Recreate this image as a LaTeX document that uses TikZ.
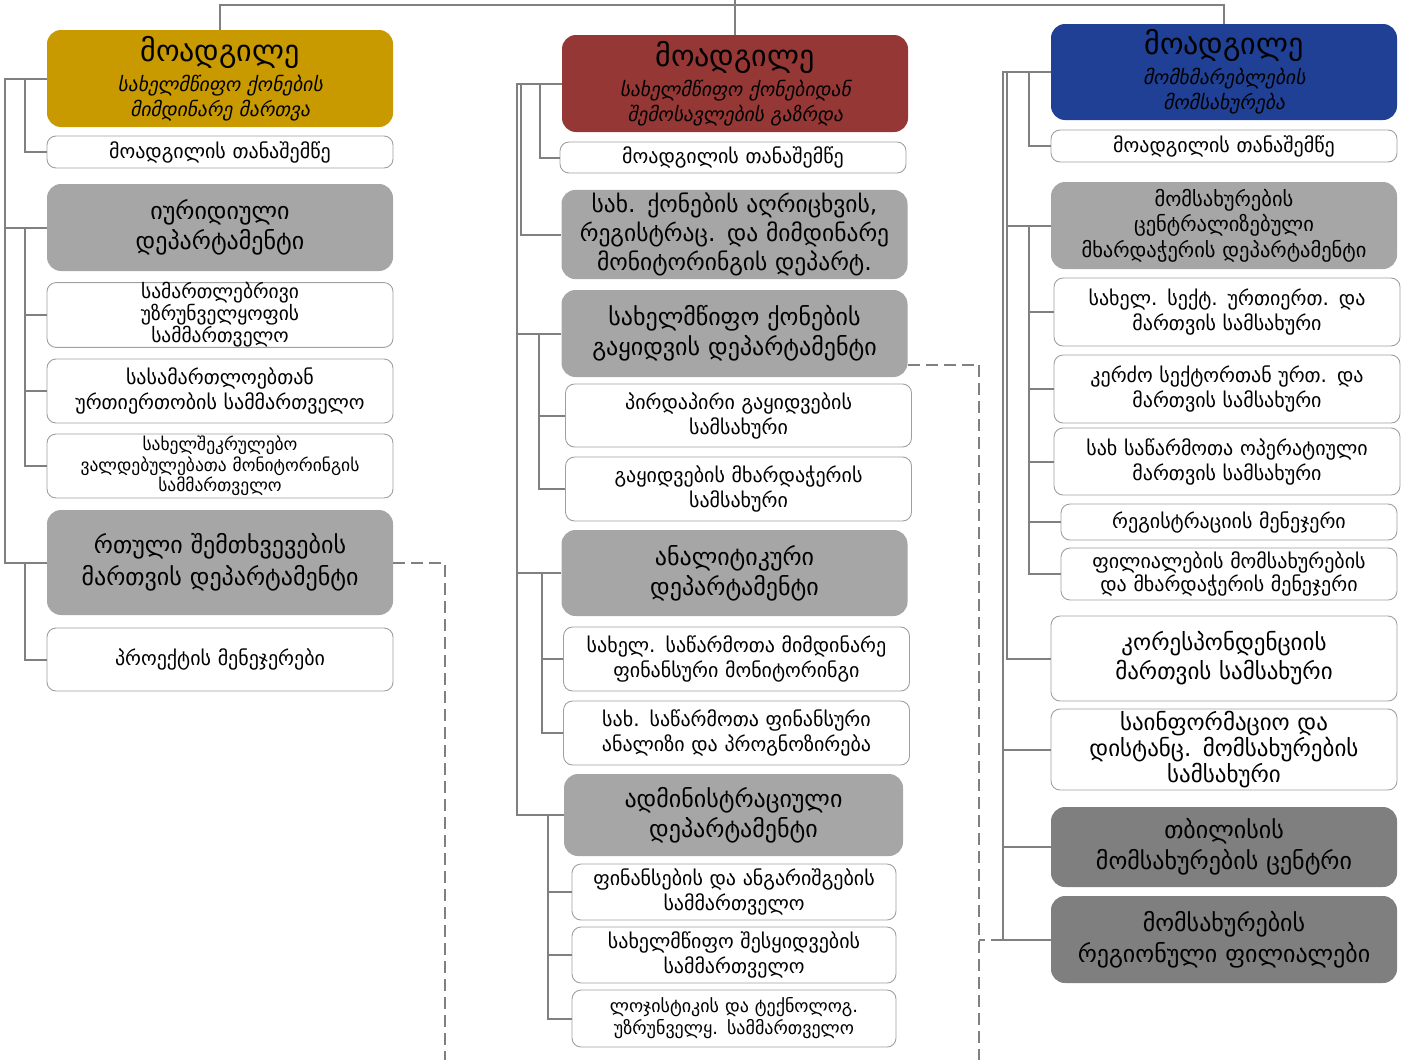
\documentclass[tikz,border=0pt]{standalone}
\usepackage{fontspec}
\usepackage{tikz}
\usetikzlibrary{calc}
\newfontfamily\geofont{DejaVu Sans}
\newfontfamily\geoitfont[FakeSlant=0.2]{DejaVu Sans}

\definecolor{goldbox}{RGB}{200,154,0}
\definecolor{redbox}{RGB}{149,55,53}
\definecolor{bluebox}{RGB}{31,64,148}
\definecolor{deptgray}{RGB}{166,166,166}
\definecolor{darkgray}{RGB}{127,127,127}
\definecolor{boxline}{RGB}{160,160,160}
\definecolor{linkgray}{RGB}{128,128,128}

\tikzset{
  bigbox/.style={rectangle, rounded corners=14pt, inner sep=3pt, minimum width=346pt, text width=340pt, align=center},
  deputy/.style={bigbox, fill=#1, font=\geoitfont\fontsize{19.5}{25}\selectfont},
  dept/.style={bigbox, fill=deptgray, font=\geofont\fontsize{24}{30}\selectfont},
  hub/.style={bigbox, fill=darkgray, font=\geofont\fontsize{24}{31}\selectfont},
  unit/.style={rectangle, rounded corners=9pt, draw=boxline, line width=0.9pt, fill=white, inner sep=3pt, minimum width=346pt, text width=340pt, align=center, font=\geofont\fontsize{20}{25}\selectfont},
  link/.style={draw=linkgray, line width=2pt},
  dotlink/.style={link, dash pattern=on 12pt off 6pt}
}
\newcommand{\deputytitle}{{\geofont\fontsize{30}{33}\selectfont მოადგილე}\\[5pt]}

\begin{document}
\begin{tikzpicture}[x=1pt,y=-1pt]
	\useasboundingbox (0,0) rectangle (1402,1060);

	% deputies
	\node[deputy=goldbox, minimum height=97pt] (dep1) at (220,78.5) {\deputytitle სახელმწიფო ქონების\\მიმდინარე მართვა};
	\node[deputy=redbox, minimum height=97pt] (dep2) at (735,83.5) {\deputytitle სახელმწიფო ქონებიდან\\შემოსავლების გაზრდა};
	\node[deputy=bluebox, minimum height=96pt] (dep3) at (1224,72) {\deputytitle მომხმარებლების\\მომსახურება};

	% top lines
	\coordinate (root) at (735,0);
	\coordinate (hub) at (735,5);
	\draw[link] (root) -- (dep2.north);
	\draw[link] (dep1.north) |- (hub) -| (dep3.north);

	% left column
	\node[unit, minimum height=32pt] (asst1) at (220,152) {მოადგილის თანაშემწე};
	\node[dept, minimum height=87pt] (jur) at (220,227.5) {იურიდიული\\დეპარტამენტი};
	\node[unit, minimum height=64pt, inner sep=0pt, font=\geofont\fontsize{19.5}{20.5}\selectfont] (jurA) at (220,315) {სამართლებრივი\\უზრუნველყოფის\\სამმართველო};
	\node[unit, minimum height=64pt] (jurB) at (220,391) {სასამართლოებთან\\ურთიერთობის სამმართველო};
	\node[unit, minimum height=64pt, inner sep=1pt, font=\geofont\fontsize{17.5}{20.5}\selectfont] (jurC) at (220,466) {სახელშეკრულებო\\ვალდებულებათა მონიტორინგის\\სამმართველო};
	\node[dept, minimum height=105pt, font=\geofont\fontsize{24}{32}\selectfont] (cases) at (220,562.5) {რთული შემთხვევების\\მართვის დეპარტამენტი};
	\node[unit, minimum height=63pt] (proj) at (220,659.5) {პროექტის მენეჯერები};

	\draw[link] (dep1.west) -- ++(-22,0) |- (asst1.west);
	\draw[link] (dep1.west) -- ++(-42,0) |- (jur.west);
	\draw[link] (dep1.west) -- ++(-42,0) |- (cases.west);
	\foreach \n in {jurA,jurB,jurC}
		\draw[link] (jur.west) -- ++(-22,0) |- (\n.west);
	\draw[link] (cases.west) -- ++(-22,0) |- (proj.west);

	% middle column
	\node[unit, minimum height=31pt] (asst2) at (733,157.5) {მოადგილის თანაშემწე};
	\node[dept, minimum height=89pt, font=\geofont\fontsize{23.5}{29}\selectfont] (reg) at (734.5,234.5) {სახ. ქონების აღრიცხვის,\\რეგისტრაც. და მიმდინარე\\მონიტორინგის დეპარტ.};
	\node[dept, minimum height=87pt] (sale) at (734.5,333.5) {სახელმწიფო ქონების\\გაყიდვის დეპარტამენტი};
	\node[unit, minimum height=63pt] (saleA) at (738.5,415.5) {პირდაპირი გაყიდვების\\სამსახური};
	\node[unit, minimum height=64pt] (saleB) at (738.5,489) {გაყიდვების მხარდაჭერის\\სამსახური};
	\node[dept, minimum height=86pt] (anal) at (734.5,573) {ანალიტიკური\\დეპარტამენტი};
	\node[unit, minimum height=64pt] (analA) at (736.5,659) {სახელ. საწარმოთა მიმდინარე\\ფინანსური მონიტორინგი};
	\node[unit, minimum height=64pt] (analB) at (736.5,733) {სახ. საწარმოთა ფინანსური\\ანალიზი და პროგნოზირება};
	\node[dept, minimum width=339pt, text width=333pt, minimum height=82pt] (adm) at (733.5,815) {ადმინისტრაციული\\დეპარტამენტი};
	\node[unit, minimum width=324pt, text width=318pt, minimum height=56pt] (admA) at (734,892) {ფინანსების და ანგარიშგების\\სამმართველო};
	\node[unit, minimum width=324pt, text width=318pt, minimum height=56pt] (admB) at (734,955) {სახელმწიფო შესყიდვების\\სამმართველო};
	\node[unit, minimum width=324pt, text width=318pt, minimum height=57pt, font=\geofont\fontsize{18}{22}\selectfont] (admC) at (734,1018.5) {ლოჯისტიკის და ტექნოლოგ.\\უზრუნველყ. სამმართველო};

	\draw[link] (dep2.west) -- ++(-22,0) |- (asst2.west);
	\draw[link] (dep2.west) -- ++(-41,0) |- (reg.west);
	\foreach \n in {sale,anal}
		\draw[link] (dep2.west) -- ++(-45,0) |- (\n.west);
	\draw[link] (dep2.west) -- ++(-45,0) |- (adm.west);
	\foreach \n in {saleA,saleB}
		\draw[link] (sale.west) -- ++(-22,0) |- (\n.west);
	\foreach \n in {analA,analB}
		\draw[link] (anal.west) -- ++(-19,0) |- (\n.west);
	\foreach \n in {admA,admB,admC}
		\draw[link] (adm.west) -- ++(-16,0) |- (\n.west);

	% right column
	\node[unit, minimum height=32pt] (asst3) at (1224,146) {მოადგილის თანაშემწე};
	\node[dept, minimum height=87pt, font=\geofont\fontsize{20.5}{25.5}\selectfont] (cent) at (1224,225.5) {მომსახურების\\ცენტრალიზებული\\მხარდაჭერის დეპარტამენტი};
	\node[unit, minimum height=68pt] (centA) at (1227,312) {სახელ. სექტ. ურთიერთ. და\\მართვის სამსახური};
	\node[unit, minimum height=68pt] (centB) at (1227,389) {კერძო სექტორთან ურთ. და\\მართვის სამსახური};
	\node[unit, minimum height=67pt] (centC) at (1227,461.5) {სახ საწარმოთა ოპერატიული\\მართვის სამსახური};
	\node[unit, minimum width=336pt, text width=330pt, minimum height=36pt] (centD) at (1229,522) {რეგისტრაციის მენეჯერი};
	\node[unit, minimum width=336pt, text width=330pt, minimum height=52pt, font=\geofont\fontsize{20}{23}\selectfont] (centE) at (1229,574) {ფილიალების მომსახურების\\და მხარდაჭერის მენეჯერი};
	\node[unit, minimum height=85pt, font=\geofont\fontsize{23}{29}\selectfont] (corr) at (1224,658.5) {კორესპონდენციის\\მართვის სამსახური};
	\node[unit, minimum height=81pt, inner sep=1pt, font=\geofont\fontsize{23}{26}\selectfont] (info) at (1224,749.5) {საინფორმაციო და\\დისტანც. მომსახურების\\სამსახური};
	\node[hub, minimum height=80pt] (tbil) at (1224,847) {თბილისის\\მომსახურების ცენტრი};
	\node[hub, minimum height=87pt] (regio) at (1224,939.5) {მომსახურების\\რეგიონული ფილიალები};

	\draw[link] (dep3.west) -- ++(-22,0) |- (asst3.west);
	\foreach \n in {cent,corr}
		\draw[link] (dep3.west) -- ++(-44,0) |- (\n.west);
	\foreach \n in {info,tbil,regio}
		\draw[link] (dep3.west) -- ++(-48,0) |- (\n.west);
	\foreach \n in {centA,centB,centC,centD,centE}
		\draw[link] (cent.west) -- ++(-22,0) |- (\n.west);

	% dashed links
	\coordinate (endL) at (445,1060);
	\coordinate (endM) at (979,1060);
	\draw[dotlink] (cases.east) -| (endL);
	\draw[dotlink] ([yshift=-31pt]sale.east) -| (endM);
	\draw[dotlink] ([xshift=-48pt]regio.west) -- ++(-24,0);

\end{tikzpicture}
\end{document}
